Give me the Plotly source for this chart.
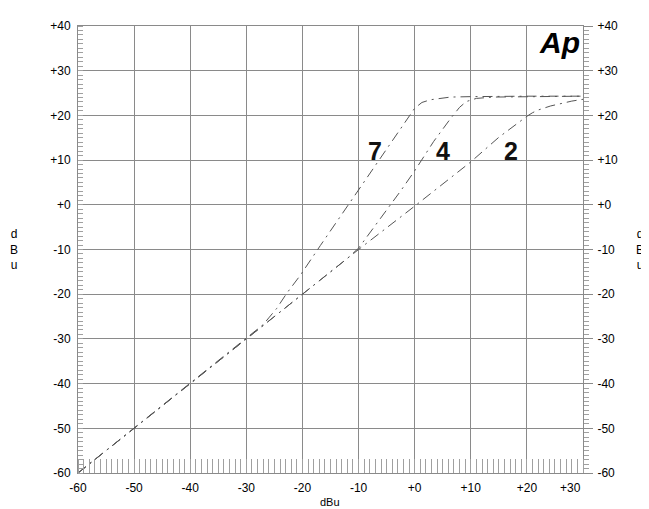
import plotly.graph_objects as go

# ---- data ----
curve7_x = [-60, -30, -27, -26, -24.6, -22.8, -20.4, -16.8, -10, -5, -1, 0, 1.3, 2.8, 6.4, 10, 20, 30]
curve7_y = [-60, -30, -26.8, -25.3, -23.2, -19.8, -15.8, -9.1, 3.3, 12.5, 19.9, 21.6, 22.9, 23.5, 24.1, 24.2, 24.3, 24.3]

curve4_x = [-60, -30, -12, -10, -8, -5, -2.5, 0, 3.4, 6.4, 8, 9.2, 11, 14, 20, 30]
curve4_y = [-60, -30, -12, -9.7, -6.3, -1.3, 3.1, 7.6, 14.2, 19.3, 21.8, 23.1, 23.8, 24.1, 24.2, 24.3]

curve2_x = [-60, -30, -10, 0, 10, 15, 18, 20, 21, 22, 24.2, 26, 28, 30]
curve2_y = [-60, -30, -10, -0.3, 9.6, 15.1, 18.0, 19.8, 20.6, 21.2, 22.1, 22.7, 23.2, 23.6]

curve_labels = ["7", "4", "2"]
label_x = [-7.0, 5.1, 17.1]
label_y = [12.0, 12.0, 12.0]

x_tickvals = [-60, -50, -40, -30, -20, -10, 0, 10, 20]
x_ticktext = ["-60", "-50", "-40", "-30", "-20", "-10", "+0", "+10", "+20"]
x_last_label = "+30"
y_tickvals = [-60, -50, -40, -30, -20, -10, 0, 10, 20, 30, 40]
y_ticktext = ["-60", "-50", "-40", "-30", "-20", "-10", "+0", "+10", "+20", "+30", "+40"]

# ---- styling ----
LINE_COLOR = "#555555"
GRID_COLOR = "#8a8a8a"
MINOR_COLOR = "#a0a0a0"
DASH = "10px,5px,2px,5px"
TICKFONT = dict(family="Liberation Sans, Arial, sans-serif", size=12, color="#000000")

fig = go.Figure()
for xs, ys in [(curve7_x, curve7_y), (curve4_x, curve4_y), (curve2_x, curve2_y)]:
    fig.add_trace(go.Scatter(x=xs, y=ys, mode="lines",
                             line=dict(color=LINE_COLOR, width=1, dash=DASH),
                             showlegend=False, hoverinfo="skip"))
# invisible helper trace so the right-hand axis is drawn
fig.add_trace(go.Scatter(x=curve2_x, y=curve2_y, yaxis="y2", mode="lines",
                         line=dict(width=0), opacity=0, showlegend=False, hoverinfo="skip"))

for t, xv, yv in zip(curve_labels, label_x, label_y):
    fig.add_annotation(x=xv, y=yv, text="<b>" + t + "</b>", showarrow=False,
                       font=dict(family="Liberation Sans Narrow, Arial Narrow, sans-serif", size=25, color="#111111"),
                       xanchor="center", yanchor="middle")

fig.add_annotation(x=27.8, y=0, yref="paper", text=x_last_label, showarrow=False,
                   font=TICKFONT, xanchor="center", yanchor="top", yshift=-6)

# logo
fig.add_annotation(x=0.953, y=0.963, xref="paper", yref="paper", text="<b><i>Ap</i></b>",
                   showarrow=False, font=dict(family="Liberation Sans, Arial, sans-serif", size=30, color="#000000"),
                   xanchor="center", yanchor="middle")

# axis titles
fig.add_annotation(x=0.499, y=-0.064, xref="paper", yref="paper", text="dBu", showarrow=False,
                   font=dict(family="Liberation Sans, Arial, sans-serif", size=11, color="#000000"),
                   xanchor="center", yanchor="middle")
for xp in [-0.127, 1.112]:
    fig.add_annotation(x=xp, y=0.5, xref="paper", yref="paper", text="d<br>B<br>u", showarrow=False,
                       font=dict(family="Liberation Sans, Arial, sans-serif", size=12, color="#000000"),
                       xanchor="center", yanchor="middle")

fig.update_layout(
    width=649, height=509,
    margin=dict(l=70, r=74, t=11, b=44),
    paper_bgcolor="#ffffff", plot_bgcolor="#ffffff",
    xaxis=dict(range=[-60, 30], tickmode="array", tickvals=x_tickvals, ticktext=x_ticktext,
               showgrid=True, gridcolor=GRID_COLOR, gridwidth=1, zeroline=False,
               showline=True, linecolor=GRID_COLOR, linewidth=1, mirror=True,
               ticks="", tickfont=TICKFONT, ticklabelstandoff=4,
               minor=dict(dtick=1, ticks="inside", ticklen=14, tickcolor=MINOR_COLOR, tickwidth=1, showgrid=False)),
    yaxis=dict(range=[-60, 40], tickmode="array", tickvals=y_tickvals, ticktext=y_ticktext,
               showgrid=True, gridcolor=GRID_COLOR, gridwidth=1, zeroline=False,
               showline=True, linecolor=GRID_COLOR, linewidth=1, mirror=True,
               ticks="", tickfont=TICKFONT, ticklabelstandoff=4,
               minor=dict(dtick=1, ticks="inside", ticklen=5, tickcolor=MINOR_COLOR, tickwidth=1, showgrid=False)),
    yaxis2=dict(range=[-60, 40], overlaying="y", side="right", tickmode="array",
                tickvals=y_tickvals, ticktext=y_ticktext, showgrid=False, zeroline=False,
                ticks="outside", ticklen=9, tickcolor=GRID_COLOR, tickwidth=1, tickfont=TICKFONT,
                ticklabelstandoff=2,
                minor=dict(dtick=1, ticks="outside", ticklen=5, tickcolor=MINOR_COLOR, tickwidth=1, showgrid=False)),
)

fig.write_html("out.html")
